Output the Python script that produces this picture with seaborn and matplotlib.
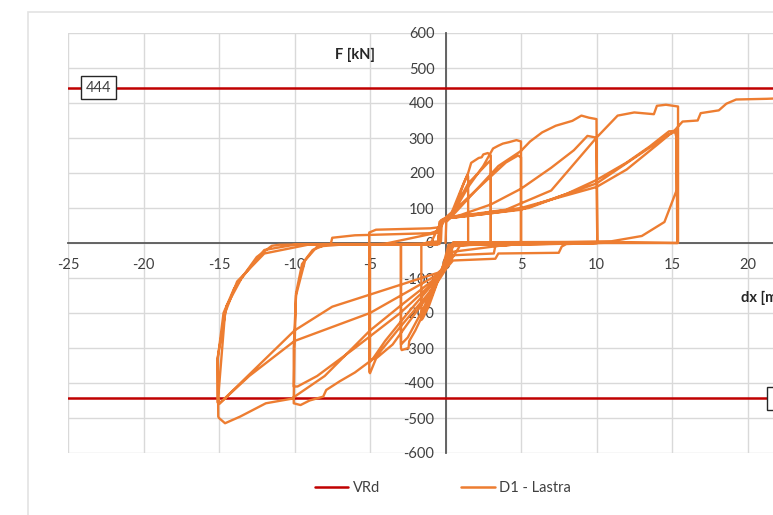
import numpy as np
import pandas as pd
import matplotlib
matplotlib.use("Agg")
import matplotlib.pyplot as plt
import seaborn as sns
from matplotlib.lines import Line2D
from matplotlib.patches import Rectangle

# --- data (dx [mm], F [kN]) ---
VRD = 444

# cycle +/-1.5 mm
c1_dx = [0, 0.05, 0.4, 0.8, 1.2, 1.45, 1.5, 1.5, 1.0, 0.2, 0.05, -0.2, -0.6, -1.1, -1.5, -1.6, -1.6, -1.2, -0.3, -0.25, 0]
c1_f = [0, 60, 75, 120, 170, 194, 190, 0, -3, -5, -30, -70, -120, -180, -215, -220, -5, 2, 5, 60, 70]

# cycles +/-3 mm
c3a_dx = [0.3, 1.0, 1.5, 1.7, 2.2, 2.4, 2.5, 2.8, 3.0, 3.0, 2.0, 0.3, 0.1, -0.3, -1.0, -2.0, -2.4, -2.45, -2.9, -2.95, -2.95, -1.0, -0.4, -0.35, 0]
c3a_f = [75, 150, 200, 229, 243, 245, 253, 257, 250, 0, -5, -8, -40, -85, -160, -250, -280, -300, -306, -300, -5, -3, -3, 60, 70]
c3b_dx = [0.5, 1.5, 2.5, 2.9, 3.0, 3.0, 0.3, 0.1, -0.3, -1.5, -2.5, -2.95, -2.95, -0.5, -0.4, 0]
c3b_f = [90, 170, 215, 233, 230, 0, -10, -40, -80, -190, -270, -290, -5, -3, 60, 70]

# cycles +/-5 mm
c5a_dx = [0.5, 1.5, 2.5, 3.15, 3.5, 3.8, 4.2, 4.7, 5.0, 5.0, 4.0, 3.3, 3.2, 0.5, 0.2, -0.3, -1.3, -2.5, -3.5, -4.6, -5.0, -5.05,
          -5.05, -4.6, -1.0, -0.4, -0.3, 0]
c5a_f = [85, 160, 220, 270, 278, 284, 288, 294, 290, 0, -8, -8, -30, -35, -50, -90, -160, -230, -290, -330, -372, -368,
         30, 38, 42, 45, 65, 72]
c5b_dx = [1.0, 2.5, 4.0, 4.8, 5.0, 5.0, 0.5, 0.1, -0.3, -2.5, -4.0, -4.8, -5.0, -5.0, -4.0, -0.5, 0]
c5b_f = [110, 170, 230, 250, 245, 0, -25, -50, -90, -200, -280, -330, -340, -5, -2, 30, 70]

# cycles +/-10 mm
c10a_dx = [0.5, 2.0, 3.5, 5.0, 5.6, 6.4, 7.3, 8.4, 9.0, 9.5, 10.0, 10.05, 8.0, 7.7, 7.5, 3.5, 3.3, 0.5, 0.1,
           -0.5, -1.3, -3.0, -4.6, -6.0, -7.0, -7.9, -8.1, -9.0, -9.6, -10.05, -10.05, -10.0, -9.9, -9.5, -8.8, -8.0,
           -7.6, -7.5, -6.0, -1.0, -0.5, -0.3, 0]
c10a_f = [80, 150, 220, 263, 290, 316, 335, 349, 364, 358, 354, 0, -3, -10, -28, -30, -45, -50, -70,
          -110, -153, -240, -325, -370, -395, -420, -439, -450, -463, -458, -440, -300, -144, -60, -20, -6,
          -3, 15, 22, 28, 35, 60, 70]
c10b_dx = [1.0, 3.0, 5.0, 7.0, 8.5, 9.4, 10.0, 10.05, 6.0, 1.0, 0.2, -0.5, -3.0, -6.0, -8.5, -9.8, -10.05, -10.05,
           -9.9, -9.3, -8.5, -7.0, -0.5, -0.3, 0]
c10b_f = [80, 110, 155, 215, 265, 306, 301, 0, -3, -5, -60, -100, -200, -300, -380, -410, -410, -300,
          -150, -50, -10, -5, -3, 60, 70]

# cycles +/-15 mm
c15a_dx = [1.0, 4.0, 7.0, 10.0, 11.4, 12.5, 13.8, 14.0, 14.6, 15.4, 15.4, 12.0, 8.0, 5.0, 0.5, 0.2,
           -0.5, -3.0, -5.0, -8.0, -10.2, -11.9, -13.6, -14.6, -15.0, -15.05, -15.08, -14.7, -14.0, -13.5, -12.5,
           -11.5, -11.0, -8.0, -3.0, -0.5, -0.3, 0]
c15a_f = [78, 95, 150, 301, 364, 373, 368, 392, 395, 390, 0, 2, -2, -5, -5, -60,
          -95, -180, -250, -380, -445, -458, -496, -515, -500, -496, -330, -200, -130, -100, -40,
          -8, -5, -3, -3, -2, 60, 70]
c15b_dx = [3.0, 5.5, 8.0, 10.0, 12.0, 13.5, 14.8, 15.2, 15.3, 15.3, 14.5, 13.0, 11.0, 8.0, 0.5, 0.2,
           -0.5, -5.0, -10.0, -13.0, -15.0, -15.1, -15.1, -14.5, -13.5, -12.0, -10.0, -1.0, -0.3, 0]
c15b_f = [85, 100, 140, 180, 230, 275, 319, 320, 300, 150, 60, 20, 5, 3, 2, -50,
          -90, -200, -280, -380, -460, -455, -330, -180, -100, -20, -5, -3, 60, 70]
c15c_dx = [5.0, 10.0, 14.8, 15.3, 15.35, 10.0, 0.5, 0.2, -0.5, -7.5, -10.0, -15.0, -15.05, -14.6, -13.8, -12.0, -9.0, -0.5, -0.3, 0]
c15c_f = [95, 170, 310, 320, 0, 0, 0, -60, -85, -182, -250, -460, -440, -200, -110, -30, -4, -3, 60, 70]

# final push
fin_dx = [5.0, 10.0, 12.0, 14.0, 15.2, 15.7, 16.7, 16.9, 18.1, 18.6, 19.25, 21.3, 23.0]
fin_f = [100, 160, 210, 280, 323, 347, 350, 371, 379, 398, 410, 412, 415]

dx_all = np.concatenate([c1_dx, c3a_dx, c3b_dx, c5a_dx, c5b_dx, c10a_dx, c10b_dx, c15a_dx, c15b_dx, c15c_dx, fin_dx])
f_all = np.concatenate([c1_f, c3a_f, c3b_f, c5a_f, c5b_f, c10a_f, c10b_f, c15a_f, c15b_f, c15c_f, fin_f])
df = pd.DataFrame({"dx": dx_all, "F": f_all})

x_ticks = list(range(-25, 30, 5))
y_ticks = list(range(-600, 700, 100))

ORANGE = "#ED7D31"
RED = "#C00000"
GRID = "#D9D9D9"
TXT = "#404040"

sns.set_style("white")
plt.rcParams["font.family"] = ["Lato", "DejaVu Sans"]
plt.rcParams["axes.unicode_minus"] = False

fig = plt.figure(figsize=(7.73, 5.15), dpi=100)
ax = fig.add_axes([68 / 773, 1 - 453 / 515, 755 / 773, 420 / 515])

# outer chart frame (cropped)
fig.patches.append(Rectangle((28 / 773, -0.2), 2, 1.2 - 12 / 515, transform=fig.transFigure,
                             fill=False, edgecolor="#E3E3E3", lw=1.2))

ax.set_xlim(-25, 25)
ax.set_ylim(-600, 600)
ax.set_xticks(x_ticks)
ax.set_yticks(y_ticks)
ax.grid(True, color=GRID, lw=1)
ax.set_axisbelow(True)

for s in ["top", "right"]:
    ax.spines[s].set_visible(False)
ax.spines["left"].set_position(("data", 0))
ax.spines["bottom"].set_position(("data", 0))
for s in ["left", "bottom"]:
    ax.spines[s].set_color("#595959")
    ax.spines[s].set_linewidth(1.3)
    ax.spines[s].set_zorder(1)
ax.tick_params(axis="both", direction="out", length=5, width=1.2, color="#595959",
               labelsize=10.5, labelcolor=TXT)
ax.tick_params(axis="y", pad=3)
ax.tick_params(axis="x", pad=6)

ax.axhline(VRD, color=RED, lw=1.8, zorder=2)
ax.axhline(-VRD, color=RED, lw=1.8, zorder=2)

sns.lineplot(data=df, x="dx", y="F", sort=False, estimator=None, color=ORANGE, lw=1.7, ax=ax, zorder=3)
ax.set_xlabel("")
ax.set_ylabel("")

ax.text(-6.0, 537, "F [kN]", ha="center", va="center", fontsize=10.5, fontweight="bold", color="#262626")
ax.text(19.6, -157, "dx [mm]", ha="left", va="center", fontsize=10.5, fontweight="bold", color="#262626")

box = dict(boxstyle="square,pad=0.3", fc="white", ec="#262626", lw=1)
ax.text(-22.98, VRD, "444", ha="center", va="center", fontsize=10.5, color=TXT, bbox=box, zorder=4)
ax.text(21.6, -VRD, "-444", ha="left", va="center", fontsize=10.5, color=TXT, bbox=box, zorder=4)

handles = [Line2D([], [], color=RED, lw=1.8), Line2D([], [], color=ORANGE, lw=1.8)]
fig.legend(handles, ["VRd", "D1 - Lastra"], loc="center", bbox_to_anchor=(0.573, 0.052), ncol=2,
           frameon=False, fontsize=10.5, handlelength=2.3, handletextpad=0.3, columnspacing=5.6,
           labelcolor=TXT)

fig.savefig("out.png", dpi=100)
